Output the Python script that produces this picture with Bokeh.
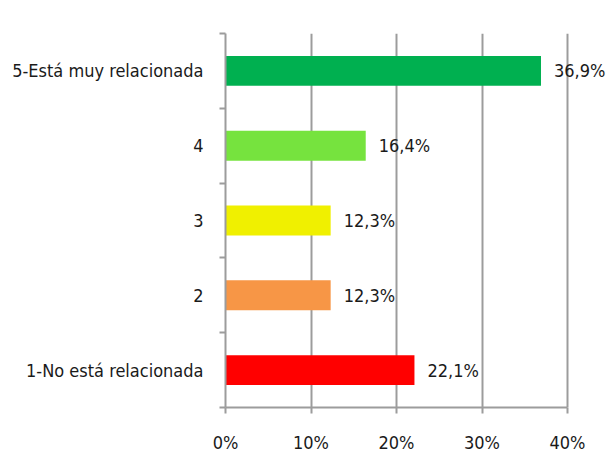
from bokeh.plotting import figure
from bokeh.models import ColumnDataSource, FixedTicker, Range1d, BoxAnnotation
from bokeh.core.properties import value
from bokeh.embed import file_html
from bokeh.resources import INLINE

categories = ["1-No está relacionada", "2", "3", "4", "5-Está muy relacionada"]
percent = [22.1, 12.3, 12.3, 16.4, 36.9]
labels = ["22,1%", "12,3%", "12,3%", "16,4%", "36,9%"]
colors = ["#ff0000", "#f79646", "#f0f000", "#76e33e", "#00b050"]
x_ticks = [0, 10, 20, 30, 40]
x_tick_labels = ["0%", "10%", "20%", "30%", "40%"]

FONT = "DejaVu Sans Condensed"
FS = "18px"
GRAY = "#9c9c9c"

ypos = [i + 0.5 for i in range(len(categories))]
src = ColumnDataSource(dict(y=ypos, x=percent, lab=labels, c=colors))

p = figure(frame_width=381, frame_height=374, output_backend="svg", toolbar_location=None,
           x_range=Range1d(0, 381 / 342 * 40), y_range=Range1d(0, 5))
p.min_border_left = 225
p.min_border_right = 0
p.min_border_top = 33
p.min_border_bottom = 48
p.outline_line_color = None
p.background_fill_color = "white"
p.border_fill_color = "white"

# decorative chart-area frame (green band on top, gray border)
p.add_layout(BoxAnnotation(left=0, right=606, top=0, bottom=5, left_units="canvas",
                           right_units="canvas", top_units="canvas", bottom_units="canvas",
                           fill_color="#d0e670", fill_alpha=1, line_color=None))
p.add_layout(BoxAnnotation(left=5, right=606, top=8, bottom=10, left_units="canvas",
                           right_units="canvas", top_units="canvas", bottom_units="canvas",
                           fill_color=GRAY, fill_alpha=1, line_color=None))
p.add_layout(BoxAnnotation(left=5, right=7, top=8, bottom=463, left_units="canvas",
                           right_units="canvas", top_units="canvas", bottom_units="canvas",
                           fill_color=GRAY, fill_alpha=1, line_color=None))

p.hbar(y="y", right="x", left=0, height=0.4, color="c", source=src, line_color=None)
p.text(x="x", y="y", text="lab", source=src, x_offset=13, text_baseline="middle",
       text_align="left", text_font=value(FONT), text_font_size=FS, text_color="#1a1a1a")

# x axis
p.xaxis.ticker = FixedTicker(ticks=x_ticks)
p.xaxis.bounds = (x_ticks[0], x_ticks[-1])
p.xaxis.major_label_overrides = {t: l for t, l in zip(x_ticks, x_tick_labels)}
p.xaxis.axis_line_color = GRAY
p.xaxis.axis_line_width = 2
p.xaxis.major_tick_line_color = GRAY
p.xaxis.major_tick_line_width = 2
p.xaxis.major_tick_out = 6
p.xaxis.major_tick_in = 0
p.xaxis.minor_tick_line_color = None
p.xaxis.major_label_standoff = 18
p.xaxis.major_label_text_font = FONT
p.xaxis.major_label_text_font_size = FS
p.xaxis.major_label_text_color = "#1a1a1a"

# y axis
p.yaxis.ticker = FixedTicker(ticks=ypos, minor_ticks=list(range(len(categories) + 1)))
p.yaxis.major_label_overrides = {y: c for y, c in zip(ypos, categories)}
p.yaxis.axis_line_color = GRAY
p.yaxis.axis_line_width = 2
p.yaxis.major_tick_line_color = None
p.yaxis.major_tick_out = 0
p.yaxis.major_tick_in = 0
p.yaxis.minor_tick_line_color = GRAY
p.yaxis.minor_tick_line_width = 2
p.yaxis.minor_tick_out = 6
p.yaxis.minor_tick_in = 0
p.yaxis.major_label_standoff = 16
p.yaxis.major_label_text_font = FONT
p.yaxis.major_label_text_font_size = FS
p.yaxis.major_label_text_color = "#1a1a1a"

p.xgrid.ticker = FixedTicker(ticks=x_ticks)
p.xgrid.grid_line_color = GRAY
p.xgrid.grid_line_width = 2
p.ygrid.grid_line_color = None

open("out.html", "w").write(file_html(p, INLINE))
